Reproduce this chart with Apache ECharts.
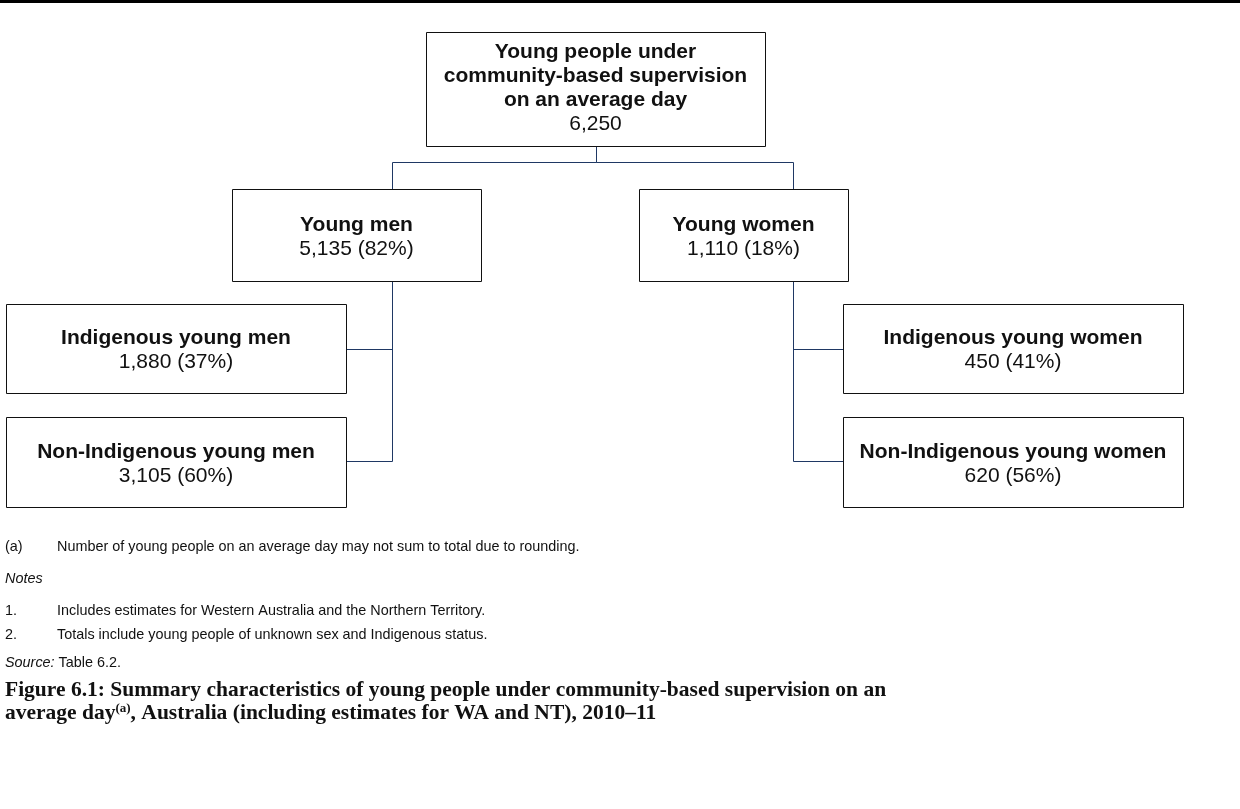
<!DOCTYPE html>
<html><head><meta charset="utf-8">
<script src="https://cdn.jsdelivr.net/npm/echarts@6/dist/echarts.min.js"></script>
<style>html,body{margin:0;padding:0;background:#fff}#c{width:1240px;height:809px}</style>
</head><body><div id="c"></div>
<script>
// ---- data ----
const nodeNames = [
  'Young people under\ncommunity-based supervision\non an average day',
  'Young men', 'Young women',
  'Indigenous young men', 'Non-Indigenous young men',
  'Indigenous young women', 'Non-Indigenous young women'
];
const nodeValues = [6250, 5135, 1110, 1880, 3105, 450, 620];
const nodePercents = [null, 82, 18, 37, 60, 41, 56];
const nodeParents = [null, 0, 0, 1, 1, 2, 2];

const footnoteA = 'Number of young people on an average day may not sum to total due to rounding.';
const notes = ['Includes estimates for Western Australia and the Northern Territory.',
               'Totals include young people of unknown sex and Indigenous status.'];
const sourceText = 'Table 6.2.';
const titleLine1 = 'Figure 6.1: Summary characteristics of young people under community-based supervision on an';
const titleLine2a = 'average day';
const titleLine2b = ', Australia (including estimates for WA and NT), 2010–11';

// ---- layout (diagram space, same units as the page) ----
const boxLayout = [
  [426, 32, 765, 146],
  [232, 189, 481, 281], [639, 189, 848, 281],
  [6, 304, 346, 393], [6, 417, 346, 507],
  [843, 304, 1183, 393], [843, 417, 1183, 507]
];
const connectorLayout = [
  null,
  [[596, 146], [596, 162], [392, 162], [392, 189]],
  [[596, 146], [596, 162], [793, 162], [793, 189]],
  [[392, 281], [392, 349], [346, 349]],
  [[392, 281], [392, 461], [346, 461]],
  [[793, 281], [793, 349], [843, 349]],
  [[793, 281], [793, 461], [843, 461]]
];

const FONT = '"Liberation Sans", Arial, sans-serif';
const SERIF = '"Liberation Serif", "Times New Roman", serif';
const fmt = v => v.toLocaleString('en-US');
const px = v => Math.round(v) + 0.5;

const chart = echarts.init(document.getElementById('c'), null, {renderer: 'canvas'});

const idx = nodeNames.map((_, i) => [i]);

function boxItem(params, api) {
  const i = api.value(0);
  const b = boxLayout[i];
  const p0 = api.coord([b[0], b[1]]);
  const p1 = api.coord([b[2], b[3]]);
  const lines = nodeNames[i].split('\n').map(s => '{b|' + s + '}');
  let val = fmt(nodeValues[i]);
  if (nodePercents[i] != null) val += ' (' + nodePercents[i] + '%)';
  lines.push('{n|' + val + '}');
  const off = lines.length > 2 ? -1 : 2;
  return {
    type: 'group',
    children: [{
      type: 'rect',
      shape: {x: px(p0[0]), y: px(p0[1]), width: Math.round(p1[0] - p0[0]), height: Math.round(p1[1] - p0[1])},
      style: {fill: '#fff', stroke: '#111', lineWidth: 1}
    }, {
      type: 'text',
      x: (p0[0] + p1[0]) / 2, y: (p0[1] + p1[1]) / 2 + off,
      style: {
        text: lines.join('\n'),
        align: 'center', verticalAlign: 'middle',
        rich: {
          b: {fontFamily: FONT, fontSize: 21, fontWeight: 'bold', lineHeight: 24, fill: '#111'},
          n: {fontFamily: FONT, fontSize: 21, lineHeight: 24, fill: '#111'}
        }
      }
    }]
  };
}

function linkItem(params, api) {
  const i = api.value(0);
  const path = connectorLayout[i];
  if (!path || nodeParents[i] == null) return null;
  const pts = path.map(p => { const c = api.coord(p); return [px(c[0]), px(c[1])]; });
  return {
    type: 'polyline',
    shape: {points: pts},
    style: {fill: null, stroke: '#1F3864', lineWidth: 1}
  };
}

const SMALL = '14.4px ' + FONT;
const option = {
  animation: false,
  grid: {left: 0, right: 0, top: 0, bottom: 0},
  xAxis: {type: 'value', min: 0, max: 1240, show: false},
  yAxis: {type: 'value', min: 0, max: 809, inverse: true, show: false},
  series: [
    {type: 'custom', renderItem: linkItem, data: idx, silent: true, z: 1},
    {type: 'custom', renderItem: boxItem, data: idx, silent: true, z: 2}
  ],
  graphic: [
    {type: 'rect', shape: {x: 0, y: 0, width: 1240, height: 3}, style: {fill: '#000'}},
    {type: 'text', style: {x: 5, y: 547, text: '(a)', font: SMALL, verticalAlign: 'middle', fill: '#111'}},
    {type: 'text', style: {x: 57, y: 547, text: footnoteA, font: SMALL, verticalAlign: 'middle', fill: '#111'}},
    {type: 'text', style: {x: 5, y: 579, text: 'Notes', font: 'italic ' + SMALL, verticalAlign: 'middle', fill: '#111'}},
    {type: 'text', style: {x: 5, y: 611, text: '1.', font: SMALL, verticalAlign: 'middle', fill: '#111'}},
    {type: 'text', style: {x: 57, y: 611, text: notes[0], font: SMALL, verticalAlign: 'middle', fill: '#111'}},
    {type: 'text', style: {x: 5, y: 635, text: '2.', font: SMALL, verticalAlign: 'middle', fill: '#111'}},
    {type: 'text', style: {x: 57, y: 635, text: notes[1], font: SMALL, verticalAlign: 'middle', fill: '#111'}},
    {type: 'text', style: {x: 5, y: 663, text: '{i|Source:} ' + sourceText, verticalAlign: 'middle', fill: '#111',
      font: SMALL, rich: {i: {fontStyle: 'italic', fontFamily: FONT, fontSize: 14.4, fill: '#111'}}}},
    {type: 'text', style: {x: 5, y: 690, text: titleLine1, font: 'bold 21.5px ' + SERIF, verticalAlign: 'middle', fill: '#111'}},
    {type: 'text', style: {x: 5, y: 713, verticalAlign: 'middle', fill: '#111',
      text: '{t|' + titleLine2a + '}{s|(a)}{t|' + titleLine2b + '}',
      rich: {
        t: {fontFamily: SERIF, fontWeight: 'bold', fontSize: 21.5, fill: '#111'},
        s: {fontFamily: SERIF, fontWeight: 'bold', fontSize: 13, fill: '#111', padding: [0, 0, 8, 0]}
      }}}
  ]
};
chart.setOption(option);
</script></body></html>
